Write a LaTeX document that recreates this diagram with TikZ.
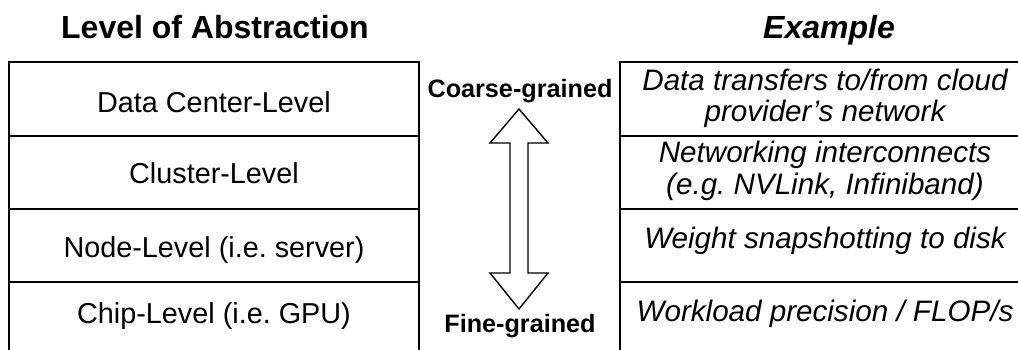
\documentclass[tikz,border=0pt]{standalone}
\usepackage{fontspec}
\setmainfont{Liberation Sans}
\usetikzlibrary{calc}
\frenchspacing
\tikzset{
  cell/.style={draw, line width=2pt, minimum width=410pt, inner sep=0pt},
  lvl/.style={font=\fontsize{28.8}{33}\selectfont, anchor=base, inner sep=0pt},
  ex/.style={font=\fontsize{29.6}{33}\selectfont\itshape, anchor=base, inner sep=0pt},
  head/.style={font=\fontsize{32}{38}\selectfont\bfseries, anchor=base, inner sep=0pt},
  grain/.style={font=\fontsize{25.2}{30}\selectfont\bfseries, anchor=base, inner sep=0pt},
  bigarrow/.style={draw, line width=1.4pt, fill=white, line join=miter}
}
\begin{document}
\begin{tikzpicture}[x=1pt, y=-1pt]
  \useasboundingbox (0,0) rectangle (1018,349);
  \clip (0,0) rectangle (1018,349);

  % column headings
  \node[head] (hL) at (215,38) {Level of Abstraction};
  \node[head, font=\fontsize{32}{38}\selectfont\bfseries\itshape] (hR) at (829,38) {Example};

  % left column: levels of abstraction
  \node[cell, minimum height=74pt] (L1) at (214,99) {};
  \node[cell, minimum height=73pt] (L2) at (214,172.5) {};
  \node[cell, minimum height=73pt] (L3) at (214,245.5) {};
  \node[cell, minimum height=90pt] (L4) at (214,327) {};
  \node[lvl] (tL1) at (214,112) {Data Center-Level};
  \node[lvl] (tL2) at (214,183) {Cluster-Level};
  \node[lvl] (tL3) at (214,257) {Node-Level (i.e. server)};
  \node[lvl] (tL4) at (214,323) {Chip-Level (i.e. GPU)};

  % right column: examples
  \node[cell, minimum height=74pt] (R1) at (825,99) {};
  \node[cell, minimum height=73pt] (R2) at (825,172.5) {};
  \node[cell, minimum height=73pt] (R3) at (825,245.5) {};
  \node[cell, minimum height=90pt] (R4) at (825,327) {};
  \node[ex] (tR1a) at (825,90) {Data transfers to/from cloud};
  \node[ex] (tR1b) at (825,121) {provider\symbol{39}s network};
  \node[ex] (tR2a) at (825,162) {Networking interconnects};
  \node[ex] (tR2b) at (825,194) {(e.g. NVLink, Infiniband)};
  \node[ex] (tR3) at (825,248) {Weight snapshotting to disk};
  \node[ex] (tR4) at (825,321) {Workload precision / FLOP/s};

  % granularity scale between the columns
  \node[grain] (coarse) at (520,97) {Coarse-grained};
  \node[grain] (fine) at (520,332) {Fine-grained};
  \draw[bigarrow] (519,109) -- (548,143) -- (528,143) -- (528,273) -- (548,273)
    -- (519,309) -- (490,273) -- (510,273) -- (510,143) -- (490,143) -- cycle;
\end{tikzpicture}
\end{document}
